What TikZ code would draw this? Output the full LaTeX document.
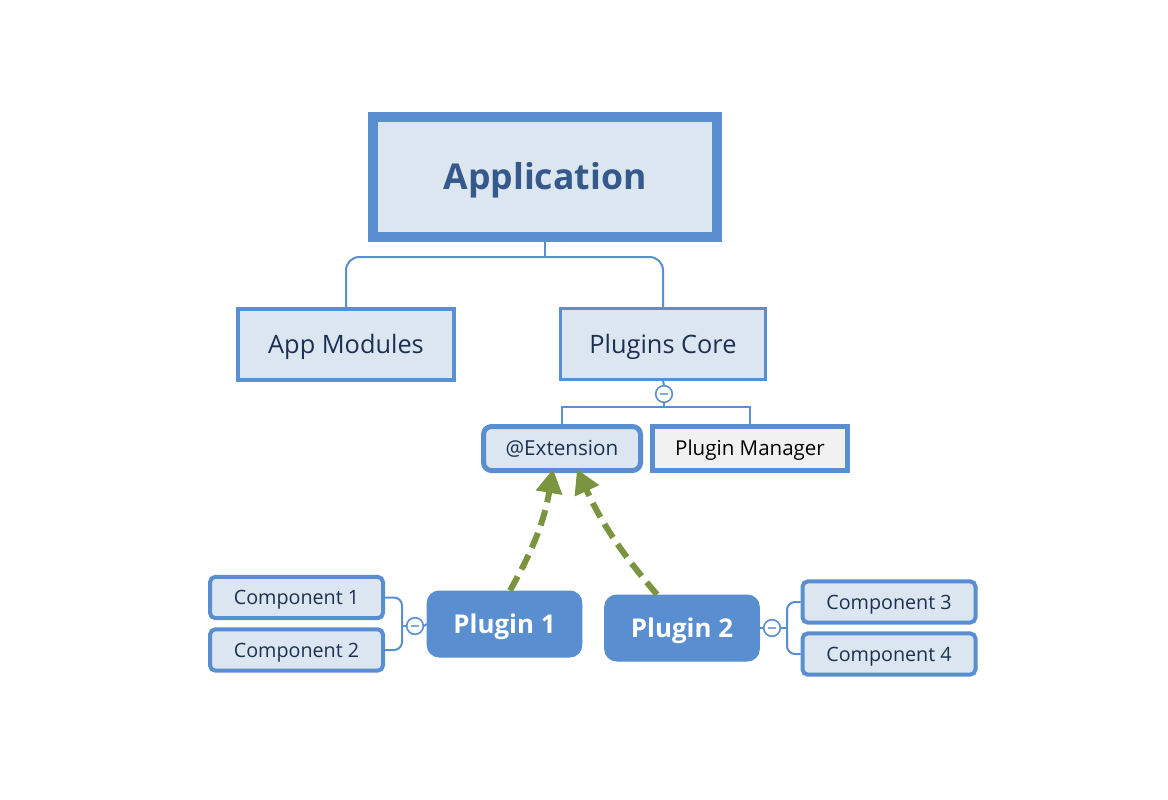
\documentclass[tikz,border=0pt]{standalone}
\usepackage{fontspec}
\setmainfont{Open Sans}
\usetikzlibrary{arrows.meta}
\definecolor{bblue}{RGB}{89,142,208}
\definecolor{lfill}{RGB}{220,230,241}
\definecolor{navy}{RGB}{28,48,82}
\definecolor{apptext}{RGB}{52,89,138}
\definecolor{gfill}{RGB}{241,241,241}
\definecolor{olive}{RGB}{122,148,64}
\tikzset{
  topbox/.style={draw=bblue, fill=lfill, line width=7.5pt, minimum width=258pt, minimum height=90pt, inner sep=0pt, text=apptext, font=\fontsize{26.7}{30}\selectfont\bfseries, text height=19pt, text depth=0pt},
  midbox/.style={draw=bblue, fill=lfill, line width=2.6pt, minimum height=53pt, inner sep=0pt, text=navy, font=\fontsize{19}{22}\selectfont, text height=13.6pt, text depth=0pt},
  extbox/.style={draw=bblue, fill=lfill, line width=3.75pt, rounded corners=6pt, minimum width=117.75pt, minimum height=33pt, inner sep=0pt, text=navy, font=\fontsize{15.5}{18}\selectfont, text height=11.1pt, text depth=0pt},
  pmbox/.style={draw=bblue, fill=gfill, line width=3.75pt, minimum width=146.25pt, minimum height=33pt, inner sep=0pt, text=black, font=\fontsize{15.4}{18}\selectfont, text height=11pt, text depth=0pt},
  plugbox/.style={draw=bblue, fill=bblue, line width=0.75pt, rounded corners=9pt, minimum width=116pt, minimum height=49.5pt, inner sep=0pt, text=white, font=\fontsize{19.4}{22}\selectfont\bfseries, text height=13.9pt, text depth=0pt},
  compbox/.style={draw=bblue, fill=lfill, line width=3pt, rounded corners=4pt, minimum width=129.75pt, minimum height=31pt, inner sep=0pt, text=navy, font=\fontsize{14.8}{17}\selectfont, text height=10.6pt, text depth=0pt},
  conn/.style={draw=bblue, line width=1.5pt},
  minus/.style={circle, draw=bblue, fill=white, line width=1.2pt, minimum size=12.5pt, inner sep=0pt, path picture={\draw[bblue!75, line width=1.4pt] ([xshift=-3pt]path picture bounding box.center) -- ([xshift=3pt]path picture bounding box.center);}},
  garrow/.style={draw=olive, line width=4.5pt, dash pattern=on 12pt off 6pt, -{Triangle[length=18pt, width=19pt]}}
}
\begin{document}
\begin{tikzpicture}[x=0.75pt, y=-0.75pt]
\useasboundingbox (0,0) rectangle (1168,800);
% nodes
\node[topbox] (app) at (545,177) {Application};
\node[midbox, minimum width=162pt] (appmod) at (346,344.5) {App Modules};
\node[midbox, minimum width=153.4pt] (pc) at (663,344) {Plugins Core};
\node[minus] (m0) at (664,394) {};
\node[extbox] (ext) at (562,448.5) {@Extension};
\node[pmbox] (pm) at (750,448.5) {Plugin Manager};
\node[plugbox] (p1) at (504.5,624) {Plugin 1};
\node[plugbox] (p2) at (682,628) {Plugin 2};
\node[compbox] (c1) at (296.5,597.5) {Component 1};
\node[compbox] (c2) at (296.5,650) {Component 2};
\node[compbox] (c3) at (889,602) {Component 3};
\node[compbox] (c4) at (889,654) {Component 4};
\node[minus] (m1) at (415,626) {};
\node[minus] (m2) at (772,628) {};
\coordinate (b0) at (664,407);
\coordinate (b1) at (402,626);
\coordinate (b2) at (787,628);
\coordinate (t0) at (545,257);
% connectors
\draw[conn] (app.south) -- (t0);
\draw[conn, rounded corners=10pt] (t0) -| (appmod.north);
\draw[conn, rounded corners=10pt] (t0) -| (pc.north);
\draw[conn] (pc.south) -- (m0.north);
\draw[conn] (m0.south) -- (b0);
\draw[conn] (b0) -| (ext.north);
\draw[conn] (b0) -| (pm.north);
\draw[conn] (p1.west) -- (m1.east);
\draw[conn] (m1.west) -- (b1);
\draw[conn, rounded corners=6pt] (b1) |- (c1.east);
\draw[conn, rounded corners=6pt] (b1) |- (c2.east);
\draw[conn] (p2.east) -- (m2.west);
\draw[conn] (m2.east) -- (b2);
\draw[conn, rounded corners=6pt] (b2) |- (c3.west);
\draw[conn, rounded corners=6pt] (b2) |- (c4.west);
% green arrows
\coordinate (e1) at (553,469);
\coordinate (e2) at (577,469);
\draw[garrow] (p1.north -| 510,0) to[bend right=10] (e1);
\draw[garrow] ([xshift=-18.75pt]p2.north) to[bend left=8] (e2);
\end{tikzpicture}
\end{document}
